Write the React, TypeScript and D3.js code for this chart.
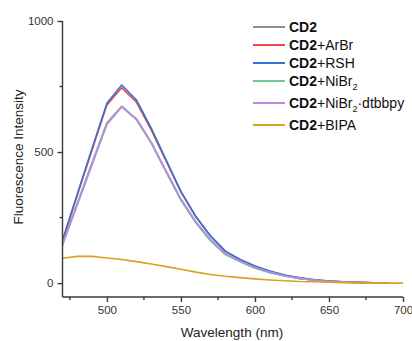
import * as d3 from "d3";
import { useEffect, useRef } from "react";

const wavelengths = [470, 480, 490, 500, 510, 520, 530, 540, 550, 560, 570, 580, 590, 600, 610, 620, 630, 640, 650, 660, 670, 680, 690];
const bipaWavelengths = [470, 480, 490, 500, 510, 520, 530, 540, 550, 560, 570, 580, 590, 600, 610, 620, 630, 640, 650, 660, 670, 680, 690, 700];

const cd2 = [150, 305, 460, 612, 675, 625, 535, 425, 318, 232, 163, 110, 82, 58, 41, 28, 18, 11, 6, 4, 2, 1, 0];
const cd2ArBr = [160, 335, 508, 680, 745, 690, 584, 465, 347, 253, 179, 121, 89, 64, 45, 30, 20, 13, 8, 5, 3, 1, 0];
const cd2Rsh = [164, 340, 515, 686, 756, 698, 590, 470, 350, 255, 180, 122, 90, 65, 46, 31, 20, 13, 8, 5, 3, 1, 0];
const cd2NiBr2 = [148, 303, 458, 610, 673, 623, 533, 423, 316, 230, 161, 109, 81, 57, 40, 27, 17, 11, 6, 4, 2, 1, 0];
const cd2NiBr2Bpy = [145, 298, 452, 605, 672, 627, 537, 428, 321, 235, 166, 112, 84, 60, 42, 28, 18, 11, 6, 4, 2, 1, 0];
const cd2Bipa = [95, 102, 102, 96, 90, 82, 73, 63, 53, 42, 33, 26, 21, 16, 12, 9, 6, 5, 3, 2, 1, 1, 0, 0];

const yTicks = [0, 500, 1000];
const yMinorTicks = [250, 750];
const xTicks = [500, 550, 600, 650, 700];
const xMinorTicks = [475, 525, 575, 625, 675];

const series = [
  { name: "", sub: "", tail: "", x: wavelengths, y: cd2, color: "#8e8e8e" },
  { name: "+ArBr", sub: "", tail: "", x: wavelengths, y: cd2ArBr, color: "#ee4a4a" },
  { name: "+RSH", sub: "", tail: "", x: wavelengths, y: cd2Rsh, color: "#3471d4" },
  { name: "+NiBr", sub: "2", tail: "", x: wavelengths, y: cd2NiBr2, color: "#72c896" },
  { name: "+NiBr", sub: "2", tail: "·dtbbpy", x: wavelengths, y: cd2NiBr2Bpy, color: "#b88ae6" },
  { name: "+BIPA", sub: "", tail: "", x: bipaWavelengths, y: cd2Bipa, color: "#d9a21e" },
];

const legendY = [27, 45, 63, 81, 103, 125];

export default function App() {
  const svgRef = useRef<SVGSVGElement>(null);

  useEffect(() => {
    const svg = d3.select(svgRef.current);
    svg.selectAll("*").remove();
    const font = "'Liberation Sans', Arial, sans-serif";
    const axisColor = "#3a3a3a";

    const x = d3.scaleLinear().domain([470, 700]).range([62.5, 403]);
    const y = d3.scaleLinear().domain([-53, 1000]).range([297, 21]);

    // spectra, drawn in legend order
    series.forEach((s) => {
      const pts: [number, number][] = s.x.map((w, i) => [x(w), y(s.y[i])]);
      svg
        .append("path")
        .attr("d", d3.line()(pts))
        .attr("fill", "none")
        .attr("stroke", s.color)
        .attr("stroke-width", 1.6)
        .attr("stroke-linejoin", "round");
    });

    // y axis
    const yAxis = d3.axisLeft(y).tickValues(yTicks).tickSize(5).tickPadding(4).tickFormat(d3.format("d"));
    const gy = svg.append("g").attr("transform", "translate(62.5,0)").call(yAxis);
    gy.select(".domain").attr("d", `M0,${y(1000)}V297`);
    svg
      .append("g")
      .selectAll("line")
      .data(yMinorTicks)
      .join("line")
      .attr("x1", 62.5)
      .attr("x2", 59.5)
      .attr("y1", (d) => y(d))
      .attr("y2", (d) => y(d));

    // x axis
    const xAxis = d3.axisBottom(x).tickValues(xTicks).tickSize(5).tickPadding(4).tickFormat(d3.format("d"));
    const gx = svg.append("g").attr("transform", "translate(0,297)").call(xAxis);
    gx.select(".domain").attr("d", `M62.5,0H${x(700)}`);
    svg
      .append("g")
      .selectAll("line")
      .data(xMinorTicks)
      .join("line")
      .attr("x1", (d) => x(d))
      .attr("x2", (d) => x(d))
      .attr("y1", 297)
      .attr("y2", 300);

    svg.selectAll(".domain, .tick line, g > line").attr("stroke", axisColor).attr("stroke-width", 1.4);
    svg
      .selectAll(".tick text")
      .attr("fill", "#333")
      .style("font-family", font)
      .style("font-size", "11.5px");

    // axis titles
    svg
      .append("text")
      .attr("x", 232)
      .attr("y", 337)
      .attr("text-anchor", "middle")
      .attr("fill", "#222")
      .style("font-family", font)
      .style("font-size", "13.5px")
      .text("Wavelength (nm)");
    svg
      .append("text")
      .attr("transform", "translate(22.5,157) rotate(-90)")
      .attr("text-anchor", "middle")
      .attr("fill", "#222")
      .style("font-family", font)
      .style("font-size", "13.5px")
      .text("Fluorescence Intensity");

    // legend
    const lg = svg.append("g");
    series.forEach((s, i) => {
      const ly = legendY[i];
      lg.append("line")
        .attr("x1", 253)
        .attr("x2", 285)
        .attr("y1", ly)
        .attr("y2", ly)
        .attr("stroke", s.color)
        .attr("stroke-width", 2);
      const t = lg
        .append("text")
        .attr("x", 289)
        .attr("y", ly + 4.8)
        .attr("fill", "#111")
        .style("font-family", font)
        .style("font-size", "14px");
      t.append("tspan").attr("font-weight", "bold").text("CD2");
      if (s.name) t.append("tspan").text(s.name);
      if (s.sub) t.append("tspan").attr("dy", 4).style("font-size", "9px").text(s.sub);
      if (s.tail) t.append("tspan").attr("dy", -4).text(s.tail);
    });
  }, []);

  return (
    <svg
      ref={svgRef}
      width={412}
      height={341}
      style={{ position: "absolute", left: 0, top: 0, background: "#fff" }}
    />
  );
}
